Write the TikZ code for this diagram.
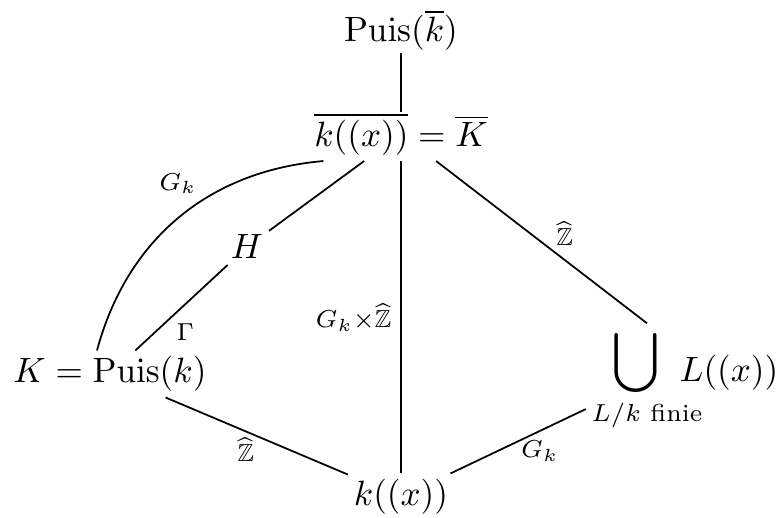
\documentclass[tikz,border=0pt]{standalone}
\usepackage{amsmath,amssymb}
\usepackage{graphicx}
\usetikzlibrary{positioning}

\begin{document}
\begin{tikzpicture}[
  obj/.style={inner sep=1.5pt},
  lab/.style={font=\scriptsize,inner sep=1.5pt},
  link/.style={line width=0.5pt}
]
\useasboundingbox (0,0) rectangle (7.79,-5.18);
\node[obj] (puis) at (4.01,-0.30) {$\mathrm{Puis}(\overline{k})$};
\node[obj] (Kbar) at (4.01,-1.34) {$\overline{k((x))}=\overline{K}$};
\node[obj] (H) at (2.47,-2.47) {$H$};
\node[obj] (K) at (1.10,-3.74) {$K=\mathrm{Puis}(k)$};
\node[obj] (cup) at (6.47,-3.80)
  {$\mathop{\scalebox{1.2}{$\displaystyle\bigcup$}}\limits_{L/k\text{ finie}}$};
\node[obj,anchor=east,inner sep=0pt] (Lx) at (7.79,-3.73) {$L((x))$};
\node[obj] (kx) at (4.01,-4.97) {$k((x))$};
% aretes
\draw[link,shorten <=-1pt,shorten >=-1.5pt] (puis) -- (Kbar);
\draw[link] (Kbar) -- (H);
\draw[link] (H) -- node[lab,below right,pos=0.62] {$\Gamma$} (K);
\draw[link] ([xshift=-0.13cm]K.north) to[bend left=35]
  node[lab,above left,pos=0.6] {$G_k$} ([xshift=0.15cm]Kbar.south west);
\draw[link] (Kbar) -- node[lab,left,inner sep=2.5pt] {$G_k{\times}\widehat{\mathbb{Z}}$} (kx);
\draw[link] (Kbar) -- node[lab,above right,pos=0.55,inner sep=1pt] {$\widehat{\mathbb{Z}}$} (cup.north);
\draw[link] (K) -- node[lab,below,pos=0.44] {$\widehat{\mathbb{Z}}$} (kx);
\draw[link] (cup) -- node[lab,below,pos=0.34,inner sep=2.5pt] {$G_k$} (kx);
\end{tikzpicture}
\end{document}
